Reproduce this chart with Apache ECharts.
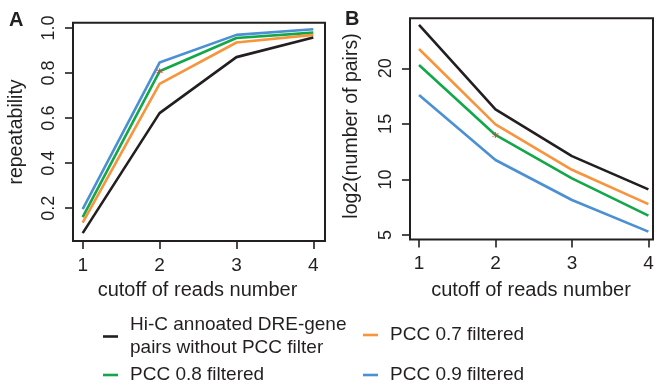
<!DOCTYPE html>
<html>
<head>
<meta charset="utf-8">
<script src="https://cdn.jsdelivr.net/npm/echarts@6/dist/echarts.min.js"></script>
<style>
html,body{margin:0;padding:0;background:#fff;}
#c{width:658px;height:384px;}
</style>
</head>
<body>
<div id="c"></div>
<script>
const cutoffs = [1, 2, 3, 4];
const seriesNames = [
  'Hi-C annoated DRE-gene\npairs without PCC filter',
  'PCC 0.7 filtered',
  'PCC 0.8 filtered',
  'PCC 0.9 filtered'
];
const colors = ['#231f20', '#f7943c', '#12a84a', '#4a90d2'];
// Panel A: repeatability
const repNoFilter = [0.089, 0.622, 0.871, 0.958];
const rep07 = [0.136, 0.752, 0.936, 0.970];
const rep08 = [0.160, 0.808, 0.956, 0.980];
const rep09 = [0.196, 0.847, 0.970, 0.995];
// Panel B: log2(number of pairs)
const pairsNoFilter = [23.9, 16.31, 12.1, 9.11];
const pairs07 = [21.74, 14.96, 10.87, 7.78];
const pairs08 = [20.3, 14.0, 10.09, 6.74];
const pairs09 = [17.6, 11.75, 8.15, 5.3];
// red asterisk marks
const markA = [2, 0.808];
const markB = [2, 14.0];
const xTicks = [1, 2, 3, 4];
const yTicksA = [0.2, 0.4, 0.6, 0.8, 1.0];
const yTicksB = [5, 10, 15, 20];

const repSets = [repNoFilter, rep07, rep08, rep09];
const pairSets = [pairsNoFilter, pairs07, pairs08, pairs09];

const txt = '#231f20';
const font = '"Liberation Sans", Arial, Helvetica, sans-serif';

function pts(vals) { return cutoffs.map((c, i) => [c, vals[i]]); }

const asterisk = 'path://M0,-1L0,1M-0.87,-0.5L0.87,0.5M-0.87,0.5L0.87,-0.5';

const series = [];
repSets.forEach((v, i) => series.push({
  type: 'line', name: seriesNames[i], xAxisIndex: 0, yAxisIndex: 0,
  data: pts(v), showSymbol: false, symbol: 'none',
  lineStyle: {color: colors[i], width: 2.6}, itemStyle: {color: colors[i]},
  z: 10 - i, animation: false
}));
pairSets.forEach((v, i) => series.push({
  type: 'line', name: seriesNames[i], xAxisIndex: 1, yAxisIndex: 1,
  data: pts(v), showSymbol: false, symbol: 'none',
  lineStyle: {color: colors[i], width: 2.6}, itemStyle: {color: colors[i]},
  z: 10 - i, animation: false
}));
series.push({type: 'scatter', name: 'markA', xAxisIndex: 0, yAxisIndex: 0, data: [markA],
  symbol: asterisk, symbolSize: 6, itemStyle: {color: 'none', borderColor: '#e8343c', borderWidth: 1.2}, z: 20, animation: false});
series.push({type: 'scatter', name: 'markB', xAxisIndex: 1, yAxisIndex: 1, data: [markB],
  symbol: asterisk, symbolSize: 6, itemStyle: {color: 'none', borderColor: '#e8343c', borderWidth: 1.2}, z: 20, animation: false});

function xAxisCfg(gi, min, max) {
  return {
    type: 'value', gridIndex: gi, min: min, max: max,
    axisLine: {show: false}, splitLine: {show: false},
    axisTick: {show: true, length: 8, customValues: xTicks, lineStyle: {color: txt, width: 1.6}},
    axisLabel: {customValues: xTicks, margin: 15, fontSize: 19, color: txt, fontFamily: font}
  };
}
function yAxisCfg(gi, min, max, ticks, fmt) {
  return {
    type: 'value', gridIndex: gi, min: min, max: max,
    axisLine: {show: false}, splitLine: {show: false},
    axisTick: {show: true, length: 8, customValues: ticks, lineStyle: {color: txt, width: 1.6}},
    axisLabel: {customValues: ticks, rotate: 90, margin: 15, fontSize: 18, color: txt, fontFamily: font, formatter: fmt}
  };
}

function legendCfg(i, left, top) {
  return {
    show: true, left: left, top: top, orient: 'vertical',
    data: [{name: seriesNames[i], icon: 'rect'}],
    itemWidth: 15, itemHeight: 2.6, padding: 0, selectedMode: false,
    textStyle: {fontSize: 19, lineHeight: 23, color: txt, fontFamily: font, padding: [0, 0, 0, 7]}
  };
}

const chart = echarts.init(document.getElementById('c'), null, {renderer: 'canvas'});
chart.setOption({
  animation: false,
  backgroundColor: '#fff',
  textStyle: {fontFamily: font},
  grid: [
    {left: 73, top: 22.7, width: 252, height: 218.3, show: true, borderColor: txt, borderWidth: 2, backgroundColor: 'transparent'},
    {left: 410, top: 18.3, width: 243, height: 221.2, show: true, borderColor: txt, borderWidth: 2, backgroundColor: 'transparent'}
  ],
  xAxis: [xAxisCfg(0, 0.874, 4.152), xAxisCfg(1, 0.882, 4.06)],
  yAxis: [
    yAxisCfg(0, 0.054, 1.024, yTicksA, v => v.toFixed(1)),
    yAxisCfg(1, 4.595, 24.5, yTicksB, v => String(v))
  ],
  legend: [
    legendCfg(0, 103, 313.5),
    legendCfg(1, 363, 323.5),
    legendCfg(2, 103, 363.5),
    legendCfg(3, 363, 363.5)
  ],
  graphic: [
    {type: 'text', left: 9, top: 10, style: {text: 'A', font: 'bold 20px ' + font, fill: txt}},
    {type: 'text', left: 345, top: 9, style: {text: 'B', font: 'bold 20px ' + font, fill: txt}},
    {type: 'text', x: 17, y: 132, rotation: Math.PI / 2, style: {text: 'repeatability', font: '19.5px ' + font, fill: txt, align: 'center', verticalAlign: 'middle'}},
    {type: 'text', x: 351.5, y: 126, rotation: Math.PI / 2, style: {text: 'log2(number of pairs)', font: '19.5px ' + font, fill: txt, align: 'center', verticalAlign: 'middle'}},
    {type: 'text', x: 197.5, y: 290, style: {text: 'cutoff of reads number', font: '20px ' + font, fill: txt, align: 'center', verticalAlign: 'middle'}},
    {type: 'text', x: 531, y: 290, style: {text: 'cutoff of reads number', font: '20px ' + font, fill: txt, align: 'center', verticalAlign: 'middle'}}
  ],
  series: series
});
</script>
</body>
</html>
